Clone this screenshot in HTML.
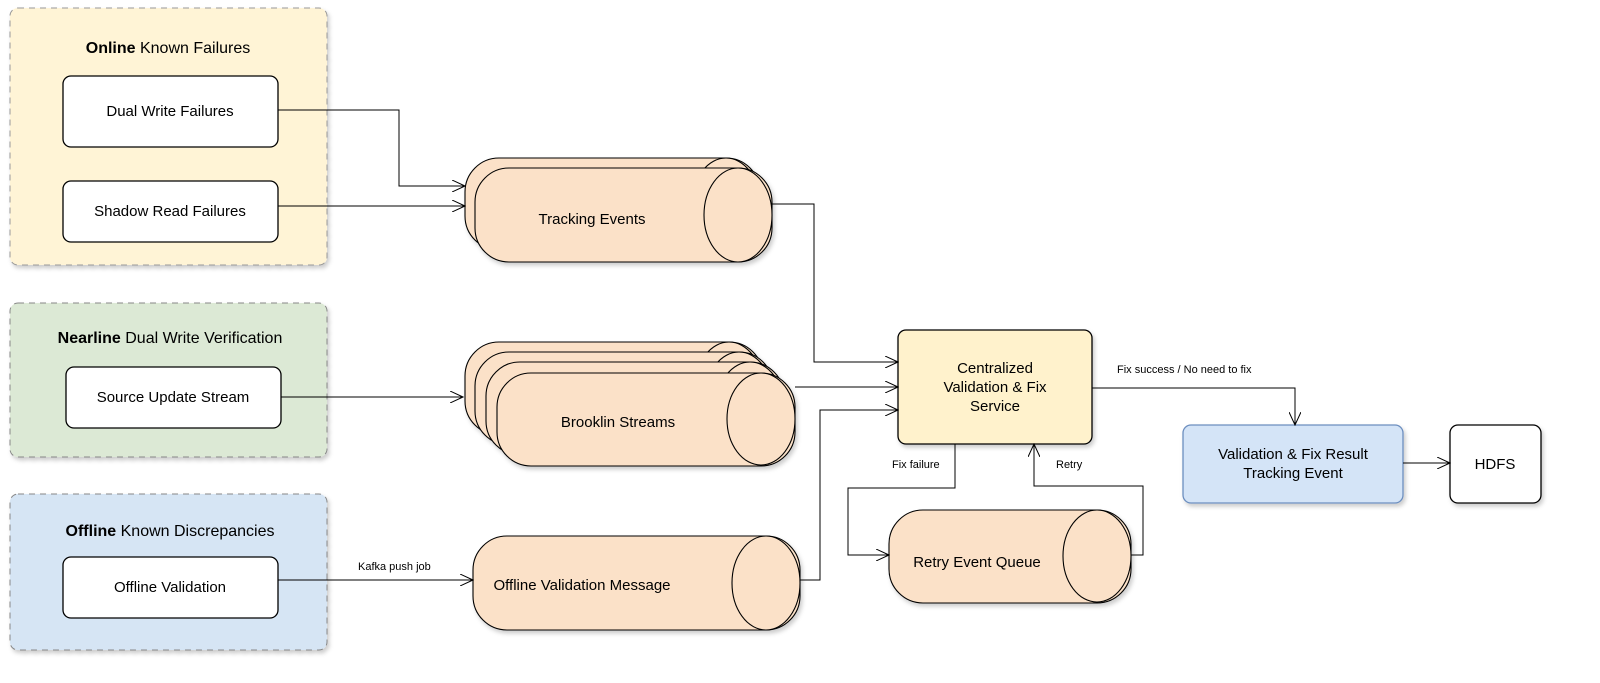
<!DOCTYPE html>
<html><head><meta charset="utf-8"><style>
html,body{margin:0;padding:0;background:#fff;}
svg{display:block;font-family:"Liberation Sans",Arial,sans-serif;}
</style></head><body>
<svg width="1600" height="683" viewBox="0 0 1600 683" xmlns="http://www.w3.org/2000/svg">
<defs>
<filter id="sh" x="-10%" y="-10%" width="130%" height="130%"><feDropShadow dx="2" dy="3" stdDeviation="2" flood-color="#000" flood-opacity="0.2"/></filter>
<marker id="ar" markerWidth="14" markerHeight="12" refX="13" refY="6" orient="auto" markerUnits="userSpaceOnUse"><path d="M0,0 L13,6 L0,12" fill="none" stroke="#000" stroke-width="1"/></marker>
</defs>
<rect x="10" y="8" width="317" height="257" rx="8" fill="#fff4d6" stroke="#999" stroke-dasharray="6 5" filter="url(#sh)"/>
<rect x="10" y="303" width="317" height="154" rx="8" fill="#dce9d5" stroke="#888" stroke-dasharray="6 5" filter="url(#sh)"/>
<rect x="10" y="494" width="317" height="156" rx="8" fill="#d6e5f4" stroke="#888" stroke-dasharray="6 5" filter="url(#sh)"/>
<text x="168" y="53" font-size="16" text-anchor="middle"><tspan font-weight="bold">Online</tspan> Known Failures</text>
<text x="170" y="343" font-size="16" text-anchor="middle"><tspan font-weight="bold">Nearline</tspan> Dual Write Verification</text>
<text x="170" y="536" font-size="16" text-anchor="middle"><tspan font-weight="bold">Offline</tspan> Known Discrepancies</text>
<g fill="#fff" stroke="#000" stroke-width="1.3">
<rect x="63" y="76" width="215" height="71" rx="8"/>
<rect x="63" y="181" width="215" height="61" rx="8"/>
<rect x="66" y="367" width="215" height="61" rx="8"/>
<rect x="63" y="557" width="215" height="61" rx="8"/>
</g>
<g font-size="15" text-anchor="middle">
<text x="170" y="116">Dual Write Failures</text>
<text x="170" y="216">Shadow Read Failures</text>
<text x="173" y="402">Source Update Stream</text>
<text x="170" y="592">Offline Validation</text>
</g>
<g fill="#fbe1c8" stroke="#000" stroke-width="1.1" filter="url(#sh)">
<rect x="465" y="158" width="295" height="92" rx="34"/><ellipse cx="726" cy="204" rx="34" ry="46"/>
<rect x="475" y="168" width="297" height="94" rx="34"/><ellipse cx="738" cy="215" rx="34" ry="47"/>
<rect x="465" y="342" width="298" height="93" rx="34"/><ellipse cx="729" cy="388" rx="34" ry="46"/>
<rect x="475" y="352" width="298" height="93" rx="34"/><ellipse cx="739" cy="398" rx="34" ry="46"/>
<rect x="486" y="362" width="298" height="93" rx="34"/><ellipse cx="750" cy="408" rx="34" ry="46"/>
<rect x="497" y="373" width="298" height="93" rx="34"/><ellipse cx="761" cy="419" rx="34" ry="46"/>
<rect x="473" y="536" width="327" height="94" rx="34"/><ellipse cx="766" cy="583" rx="34" ry="47"/>
<rect x="889" y="510" width="242" height="93" rx="34"/><ellipse cx="1097" cy="556" rx="34" ry="46"/>
</g>
<g font-size="15" text-anchor="middle">
<text x="592" y="224">Tracking Events</text>
<text x="618" y="427">Brooklin Streams</text>
<text x="582" y="590">Offline Validation Message</text>
<text x="977" y="567">Retry Event Queue</text>
</g>
<rect x="898" y="330" width="194" height="114" rx="8" fill="#fff2cc" stroke="#000" stroke-width="1.3" filter="url(#sh)"/>
<text font-size="15" text-anchor="middle"><tspan x="995" y="373">Centralized</tspan><tspan x="995" y="392">Validation &amp; Fix</tspan><tspan x="995" y="411">Service</tspan></text>
<rect x="1183" y="425" width="220" height="78" rx="8" fill="#d4e4f7" stroke="#6c8ebf" stroke-width="1.3" filter="url(#sh)"/>
<text font-size="15" text-anchor="middle"><tspan x="1293" y="459">Validation &amp; Fix Result</tspan><tspan x="1293" y="478">Tracking Event</tspan></text>
<rect x="1450" y="425" width="91" height="78" rx="8" fill="#fff" stroke="#000" stroke-width="1.3" filter="url(#sh)"/>
<text x="1495" y="469" font-size="15" text-anchor="middle">HDFS</text>
<g fill="none" stroke="#000" stroke-width="1" marker-end="url(#ar)">
<polyline points="278,110 399,110 399,186 465,186"/>
<polyline points="278,206 465,206"/>
<polyline points="772,204 814,204 814,362 898,362"/>
<polyline points="281,397 463,397"/>
<polyline points="795,387 898,387"/>
<polyline points="278,580 473,580"/>
<polyline points="800,580 820,580 820,410 898,410"/>
<polyline points="955,444 955,488 848,488 848,555 889,555"/>
<polyline points="1131,555 1143,555 1143,486 1034,486 1034,444"/>
<polyline points="1092,388 1295,388 1295,425"/>
<polyline points="1403,463 1450,463"/>
</g>
<g font-size="11">
<text x="358" y="570">Kafka push job</text>
<text x="892" y="468">Fix failure</text>
<text x="1056" y="468">Retry</text>
<text x="1117" y="373">Fix success / No need to fix</text>
</g>
</svg>
</body></html>
